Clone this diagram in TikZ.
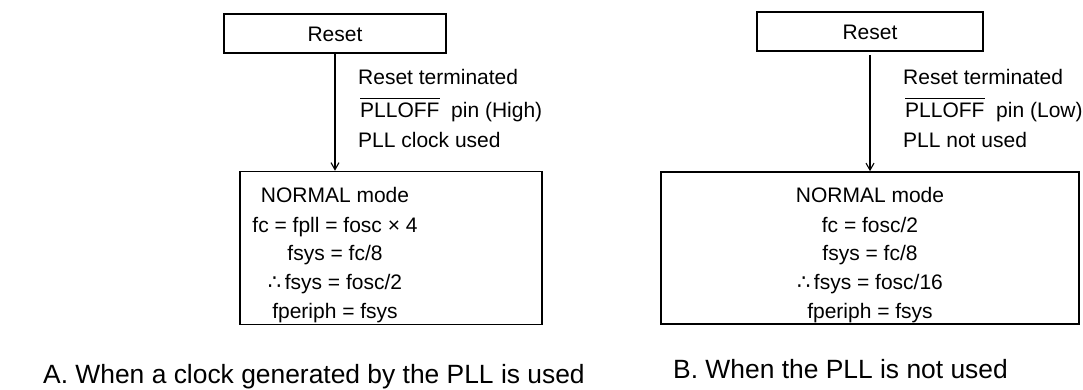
\documentclass[tikz,border=0pt]{standalone}
\usepackage{fontspec}
\setmainfont{Liberation Sans}
\newfontfamily\symfont{DejaVu Sans}
\usetikzlibrary{arrows.meta}
% active-low pin name with a bar raised clear of the capitals
\newcommand{\pinbar}[1]{$\overline{\rule{0pt}{17pt}\mbox{#1}}$}

\begin{document}
\begin{tikzpicture}[x=1pt,y=-1pt,
  box/.style={draw,line width=1.6pt,inner sep=0pt},
  arr/.style={line width=1.1pt,-{Straight Barb[length=7pt,width=8pt,line width=1.1pt]}},
  txt/.style={anchor=base,inner sep=0pt,font=\fontsize{21}{25}\selectfont},
  lbl/.style={anchor=base west,inner sep=0pt,font=\fontsize{21}{25}\selectfont},
  captxt/.style={anchor=base west,inner sep=0pt,font=\fontsize{26.4}{30}\selectfont}]
\useasboundingbox (0,0) rectangle (1083,389);

% ---- A: PLL clock used ----
\node[box,minimum width=222pt,minimum height=39pt] (resetA) at (335,33.5) {};
\node[txt] (resetAt) at (335,41) {Reset};
\node[box,minimum width=302pt,minimum height=153pt] (normA) at (391,248) {};
\draw[arr] (resetA.south) -- (resetA.south |- normA.north);

\node[lbl] (a1) at (358,84) {Reset terminated};
\node[lbl] (a2) at (360,117) {\pinbar{PLLOFF}\ \ pin (High)};
\node[lbl] (a3) at (358,147) {PLL clock used};

\node[txt] (na1) at (335,202) {NORMAL mode};
\node[txt] (na2) at (335,232) {fc = fpll = fosc × 4};
\node[txt] (na3) at (335,260) {fsys = fc/8};
\node[txt] (na4) at (335,289) {{\symfont ∴}\,fsys = fosc/2};
\node[txt] (na5) at (335,318) {fperiph = fsys};

\node[captxt] (capA) at (43,383) {A. When a clock generated by the PLL is used};

% ---- B: PLL not used ----
\node[box,minimum width=226pt,minimum height=39pt] (resetB) at (870,31.5) {};
\node[txt] (resetBt) at (870,39) {Reset};
\node[box,minimum width=418pt,minimum height=152pt] (normB) at (870,248) {};
\draw[arr,shorten <=3pt] (resetB.south) -- (resetB.south |- normB.north);

\node[lbl] (b1) at (903,84) {Reset terminated};
\node[lbl] (b2) at (905,117) {\pinbar{PLLOFF}\ \ pin (Low)};
\node[lbl] (b3) at (903,147) {PLL not used};

\node[txt] (nb1) at (870,202) {NORMAL mode};
\node[txt] (nb2) at (870,232) {fc = fosc/2};
\node[txt] (nb3) at (870,260) {fsys = fc/8};
\node[txt] (nb4) at (870,289) {{\symfont ∴}\,fsys = fosc/16};
\node[txt] (nb5) at (870,318) {fperiph = fsys};

\node[captxt] (capB) at (673,378) {B. When the PLL is not used};
\end{tikzpicture}
\end{document}
